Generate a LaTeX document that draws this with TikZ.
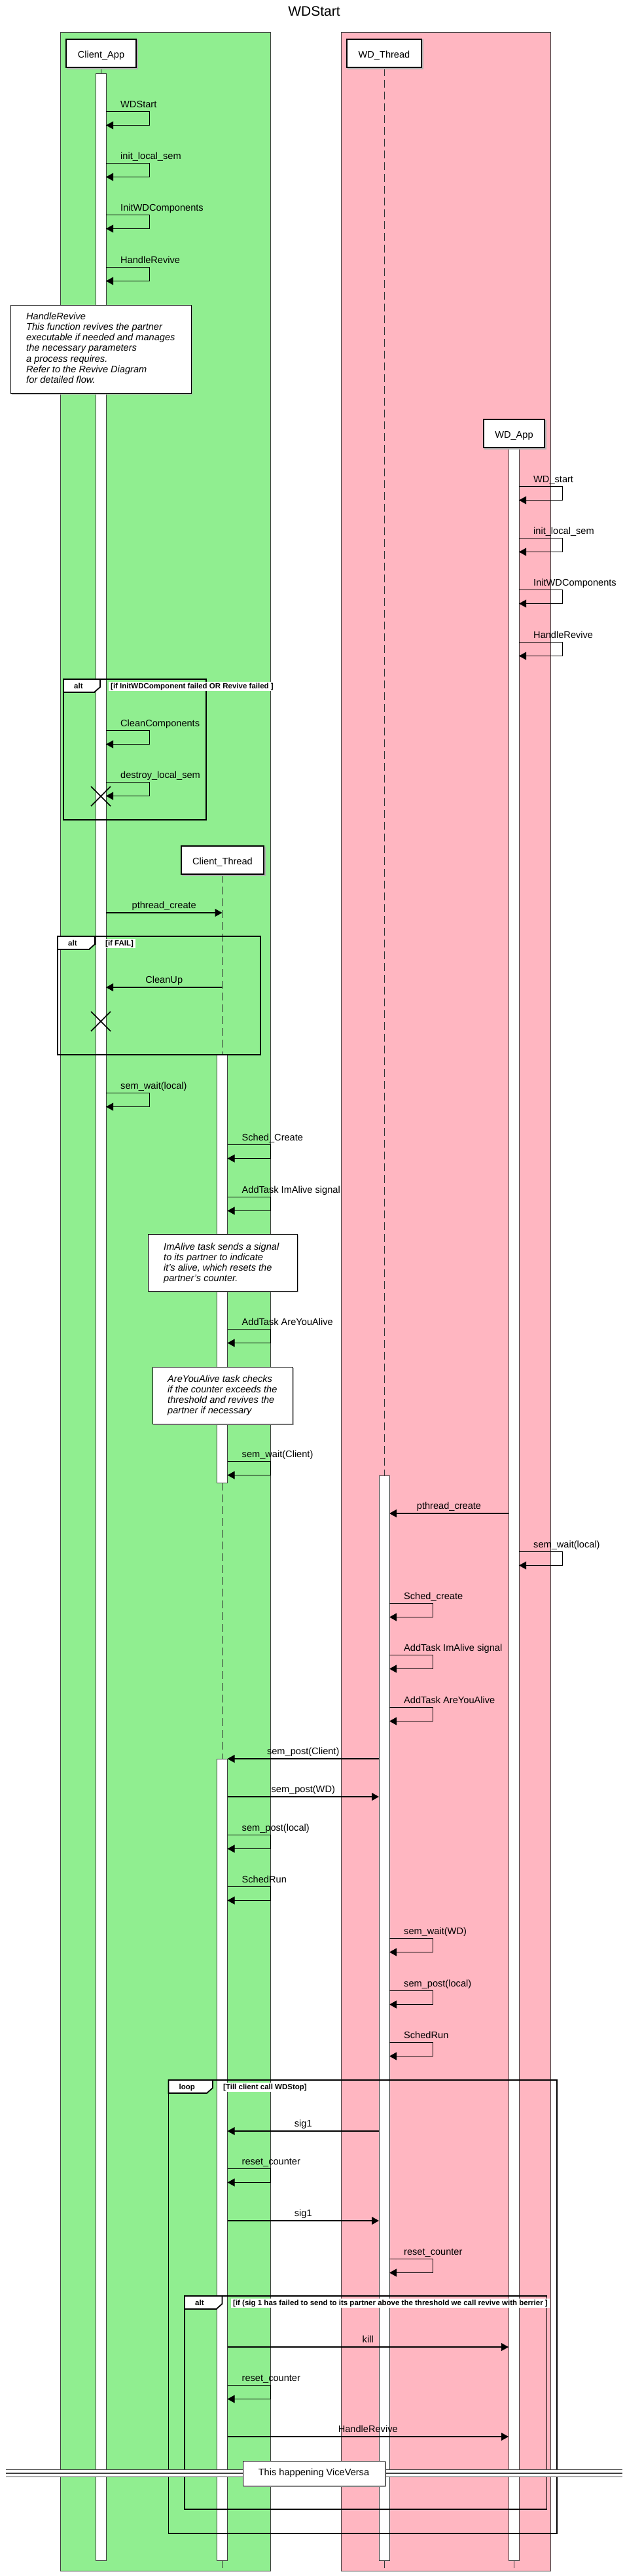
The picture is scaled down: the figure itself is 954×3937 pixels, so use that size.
\documentclass[tikz,border=0pt]{standalone}
\usepackage{fontspec}
\setmainfont{Liberation Sans}
\usetikzlibrary{arrows.meta}
\definecolor{boxgreen}{HTML}{90EE90}
\definecolor{boxpink}{HTML}{FFB6C1}
\newcommand\lblfont{\fontsize{14.6}{16.3}\selectfont}
\newcommand\frmfont{\fontsize{11.5}{13}\selectfont\bfseries}
\tikzset{
  grp/.style={draw=black!75,line width=1pt},
  actor/.style={draw=black,line width=2.4pt,fill=white,inner sep=0pt},
  lifeline/.style={draw=black!80,line width=1pt,dash pattern=on 12pt off 6pt},
  solidlife/.style={draw=black!80,line width=1pt},
  actbar/.style={draw=black!75,fill=white,line width=0.9pt},
  msg/.style={draw=black,line width=1.1pt,-{Triangle[length=11pt,width=12pt]}},
  selfline/.style={draw=black,line width=1pt,-{Triangle[length=11pt,width=12pt]}},
  lbl/.style={font=\lblfont,inner sep=0pt,anchor=base west},
  clbl/.style={font=\lblfont,inner sep=0pt,anchor=base},
  notebox/.style={draw=black,line width=1pt,fill=white},
  noteshadow/.style={fill=black!30},
  noteline/.style={font=\lblfont\itshape,inner sep=0pt,anchor=base west},
  frameline/.style={draw=black,line width=1.8pt},
  tabbox/.style={draw=black,line width=1.8pt,fill=white},
  frmlbl/.style={font=\frmfont,inner sep=0pt,anchor=base west},
  condlbl/.style={font=\frmfont,fill=white,inner xsep=3pt,inner ysep=1.8pt,anchor=base west},
  killmark/.style={draw=black,line width=1.6pt},
}
% self message: name, x, ytop, label
\newcommand\selfm[4]{%
  \coordinate (#1s) at (#2,#3);
  \coordinate (#1e) at (#2,#3+21.5);
  \draw[selfline] (#1s) -- ++(66,0) -- ++(0,21.5) -- (#1e);
  \node[lbl] (#1l) at (#2+22,#3-6) {#4};
}
% straight message: name, x1, x2, y, label
\newcommand\mesg[5]{%
  \coordinate (#1s) at (#2,#4);
  \coordinate (#1e) at (#3,#4);
  \draw[msg] (#1s) -- (#1e);
  \node[clbl] (#1l) at ({(#2+#3)/2},#4-7) {#5};
}
% frame: name, x0, y0, x1, y1, tabright, label, condleft, cond
\newcommand\frm[9]{%
  \draw[frameline] (#2,#3) rectangle (#4,#5);
  \draw[tabbox] (#2,#3) -- (#6,#3) -- (#6,#3+12) -- (#6-9,#3+20) -- (#2,#3+20) -- cycle;
  \node[frmlbl] (#1t) at (#2+16,#3+14) {#7};
  \node[condlbl] (#1c) at (#8,#3+14) {#9};
}
% actor box: name, x0, y0, x1, y1, label
\newcommand\actorbox[6]{%
  \fill[black!30] (#2+1.5,#3+1.5) rectangle (#4+1.5,#5+1.5);
  \node[actor,minimum width={#4-#2-2.4},minimum height={#5-#3-2.4}] (#1) at ({(#2+#4)/2},{(#3+#5)/2}) {};
  \node[clbl] (#1l) at ({(#2+#4)/2},{(#3+#5)/2+7}) {#6};
}
\begin{document}
\begin{tikzpicture}[x=1pt,y=-1pt]
\useasboundingbox (0,0) rectangle (954,3937);
\fill[white] (0,0) rectangle (954,3937);

% group boxes
\draw[grp,fill=boxgreen] (92,50) rectangle (413,3929);
\draw[grp,fill=boxpink] (521,50) rectangle (841,3929);

% title
\node[font=\fontsize{21}{25}\selectfont,inner sep=0pt,anchor=base] (title) at (480,25) {WDStart};

% lifelines
\draw[solidlife] (154,104) -- (154,112);
\draw[lifeline] (587,104) -- (587,2255);
\draw[lifeline] (587,3913) -- (587,3925);
\draw[lifeline] (785,3913) -- (785,3925);
\draw[lifeline] (339.5,1337) -- (339.5,1612);
\draw[lifeline] (339.5,2266) -- (339.5,2688);
\draw[solidlife] (339.5,3913) -- (339.5,3925);

% activation bars
\draw[actbar] (146,112) rectangle (162,3913);
\draw[actbar] (777,685) rectangle (793,3913);
\draw[actbar] (331.5,1612) rectangle (347.5,2266);
\draw[actbar] (331.5,2688) rectangle (347.5,3913);
\draw[actbar] (579,2255) rectangle (595,3913);

% actor boxes
\actorbox{ca}{100}{59}{209}{104}{Client\_App}
\actorbox{wt}{529}{59}{645}{104}{WD\_Thread}
\actorbox{wa}{738}{640}{833}{685}{WD\_App}
\actorbox{ct}{276}{1292}{404}{1337}{Client\_Thread}

% frames
\frm{fa}{97}{1038}{315}{1253}{153}{alt}{166}{[if InitWDComponent failed OR Revive failed ]}
\frm{fb}{88}{1431}{398}{1612}{145}{alt}{158}{[if FAIL]}
\frm{fc}{257.5}{3179}{851}{3872}{325}{loop}{338}{[Till client call WDStop]}
\frm{fd}{282}{3509}{835.5}{3835}{339.5}{alt}{353}{[if (sig 1 has failed to send to its partner above the threshold we call revive with berrier ]}

% Client_App self messages
\selfm{s1}{162}{170}{WDStart}
\selfm{s2}{162}{249}{init\_local\_sem}
\selfm{s3}{162}{328}{InitWDComponents}
\selfm{s4}{162}{408}{HandleRevive}
\selfm{s5}{162}{1116}{CleanComponents}
\selfm{s6}{162}{1195}{destroy\_local\_sem}
\selfm{s7}{162}{1670}{sem\_wait(local)}

% WD_App self messages
\selfm{w1}{793}{743}{WD\_start}
\selfm{w2}{793}{822}{init\_local\_sem}
\selfm{w3}{793}{901}{InitWDComponents}
\selfm{w4}{793}{981}{HandleRevive}
\selfm{w5}{793}{2371}{sem\_wait(local)}

% Client_Thread self messages
\selfm{c1}{347.5}{1749}{Sched\_Create}
\selfm{c2}{347.5}{1829}{AddTask ImAlive signal}
\selfm{c3}{347.5}{2031}{AddTask AreYouAlive}
\selfm{c4}{347.5}{2233}{sem\_wait(Client)}
\selfm{c5}{347.5}{2804}{sem\_post(local)}
\selfm{c6}{347.5}{2883}{SchedRun}
\selfm{c7}{347.5}{3314}{reset\_counter}
\selfm{c8}{347.5}{3645}{reset\_counter}

% WD_Thread self messages
\selfm{t1}{595}{2450}{Sched\_create}
\selfm{t2}{595}{2529}{AddTask ImAlive signal}
\selfm{t3}{595}{2609}{AddTask AreYouAlive}
\selfm{t4}{595}{2962}{sem\_wait(WD)}
\selfm{t5}{595}{3042}{sem\_post(local)}
\selfm{t6}{595}{3121}{SchedRun}
\selfm{t7}{595}{3452}{reset\_counter}

% straight messages
\mesg{m1}{162}{339.5}{1395}{pthread\_create}
\mesg{m2}{339.5}{162}{1509}{CleanUp}
\mesg{m3}{777}{595}{2313}{pthread\_create}
\mesg{m4}{579}{347.5}{2688}{sem\_post(Client)}
\mesg{m5}{347.5}{579}{2746}{sem\_post(WD)}
\mesg{m6}{579}{347.5}{3257}{sig1}
\mesg{m7}{347.5}{579}{3394}{sig1}
\mesg{m8}{347.5}{777}{3587}{kill}
\mesg{m9}{347.5}{777}{3724}{HandleRevive}

% destruction marks
\draw[killmark] (139,1202) -- (169,1232) (139,1232) -- (169,1202);
\draw[killmark] (139,1546) -- (169,1576) (139,1576) -- (169,1546);

% notes
\fill[noteshadow] (18,467.5) rectangle (293.5,602.5);
\draw[notebox] (16.5,466) rectangle (292,601);
\node[noteline] (n1a) at (40,488) {HandleRevive};
\node[noteline] (n1b) at (40,504.3) {This function revives the partner};
\node[noteline] (n1c) at (40,520.6) {executable if needed and manages};
\node[noteline] (n1d) at (40,536.9) {the necessary parameters};
\node[noteline] (n1e) at (40,553.2) {a process requires.};
\node[noteline] (n1f) at (40,569.5) {Refer to the Revive Diagram};
\node[noteline] (n1g) at (40,585.8) {for detailed flow.};

\fill[noteshadow] (227.5,1887.5) rectangle (455.5,1974.5);
\draw[notebox] (226,1886) rectangle (454,1973);
\node[noteline] (n2a) at (250,1910) {ImAlive task sends a signal};
\node[noteline] (n2b) at (250,1926.3) {to its partner to indicate};
\node[noteline] (n2c) at (250,1942.6) {it's alive, which resets the};
\node[noteline] (n2d) at (250,1958.9) {partner's counter.};

\fill[noteshadow] (234.5,2090.5) rectangle (448.5,2177.5);
\draw[notebox] (233,2089) rectangle (447,2176);
\node[noteline] (n3a) at (256,2112) {AreYouAlive task checks};
\node[noteline] (n3b) at (256,2128.3) {if the counter exceeds the};
\node[noteline] (n3c) at (256,2144.6) {threshold and revives the};
\node[noteline] (n3d) at (256,2160.9) {partner if necessary};

% divider
\fill[white] (8.5,3774) rectangle (951,3785);
\draw[black!75,line width=0.9pt] (8.5,3774) -- (951,3774);
\draw[black!75,line width=0.9pt] (8.5,3785) -- (951,3785);
\draw[black!75,line width=1.6pt] (8.5,3780) -- (951,3780);
\fill[black!30] (372.5,3762.5) rectangle (589.5,3800.5);
\draw[notebox] (371,3761) rectangle (588,3799);
\node[font=\lblfont,inner sep=0pt] (div) at (479.5,3780) {This happening ViceVersa};
\end{tikzpicture}
\end{document}
